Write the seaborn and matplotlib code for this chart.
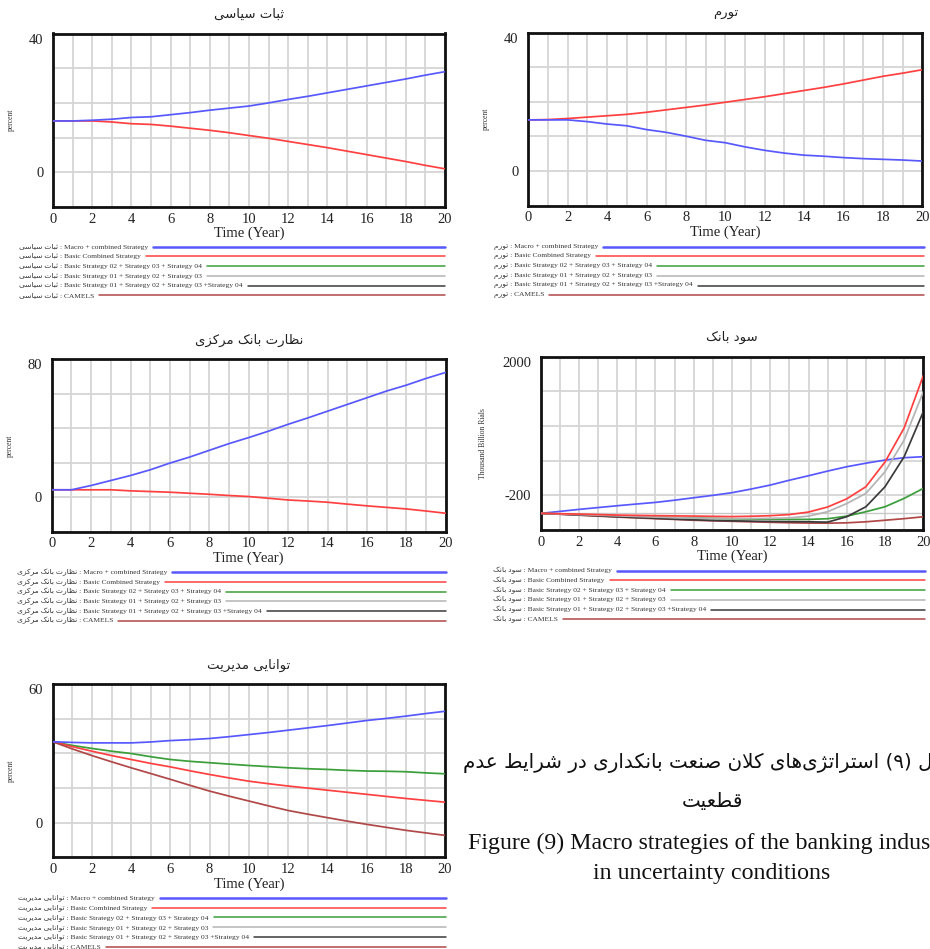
import matplotlib
matplotlib.use("Agg")
import matplotlib.pyplot as plt
from matplotlib.lines import Line2D
import numpy as np
import pandas as pd
import seaborn as sns

# ---------------------------------------------------------------- data
years = list(range(21))

series_names = [
    "Macro + combined Strategy",
    "Basic Combined Strategy",
    "Basic Strategy 02 + Strategy 03 + Strategy 04",
    "Basic Strategy 01 + Strategy 02 + Strategy 03",
    "Basic Strategy 01 + Strategy 02 + Strategy 03 +Strategy 04",
    "CAMELS",
]
series_colors = ["#5858ff", "#ff4040", "#3a9e3a", "#b4b4b4", "#3a3a3a", "#b04848"]

# political stability (percent)
stab_macro = [14.8, 14.8, 15.0, 15.3, 15.8, 16.0, 16.6, 17.2, 17.9, 18.5, 19.1,
              20.0, 21.0, 21.9, 22.9, 23.9, 24.9, 25.9, 26.9, 28.0, 29.0]
stab_basic = [14.8, 14.8, 14.8, 14.5, 14.0, 13.8, 13.3, 12.7, 12.1, 11.4, 10.6,
              9.8, 8.9, 8.0, 7.1, 6.1, 5.1, 4.1, 3.1, 2.0, 1.0]

# inflation (percent)
infl_macro = [14.8, 14.8, 14.8, 14.3, 13.6, 13.1, 12.0, 11.2, 10.1, 8.9, 8.2,
              7.0, 6.0, 5.2, 4.6, 4.3, 3.9, 3.6, 3.4, 3.2, 2.9]
infl_basic = [14.8, 14.9, 15.2, 15.6, 16.0, 16.4, 17.0, 17.7, 18.4, 19.1, 19.9,
              20.7, 21.5, 22.4, 23.3, 24.2, 25.2, 26.3, 27.4, 28.3, 29.3]

# central bank supervision (percent)
sup_macro = [4.3, 4.3, 6.8, 9.7, 12.6, 15.9, 19.8, 23.3, 27.2, 31.1, 34.6,
             38.3, 42.3, 46.0, 49.9, 53.8, 57.7, 61.6, 65.0, 68.9, 72.4]
sup_basic = [4.3, 4.3, 4.3, 4.3, 3.7, 3.3, 2.9, 2.3, 1.7, 1.0, 0.4,
             -0.6, -1.6, -2.2, -2.9, -4.0, -5.0, -5.9, -6.8, -8.0, -9.3]

# bank profit (thousand billion rials)
prof_macro = [-486, -455, -423, -394, -365, -338, -312, -277, -238, -200, -158,
              -100, -37, 40, 111, 185, 254, 310, 360, 397, 413]
prof_basic = [-486, -492, -498, -505, -513, -518, -522, -526, -529, -533, -537,
              -532, -523, -505, -465, -385, -255, -63, 330, 870, 1700]
prof_s234 = [-486, -495, -505, -515, -525, -535, -545, -553, -560, -566, -572,
             -576, -580, -582, -582, -571, -530, -460, -381, -248, -90]
prof_s123 = [-486, -495, -505, -515, -525, -535, -545, -555, -562, -566, -568,
             -568, -565, -558, -530, -460, -330, -169, 175, 678, 1445]
prof_s1234 = [-486, -498, -512, -525, -540, -552, -565, -578, -588, -598, -605,
              -610, -615, -618, -620, -625, -539, -381, -63, 413, 1127]
prof_camels = [-486, -500, -515, -530, -545, -558, -570, -582, -595, -605, -612,
               -620, -628, -635, -640, -642, -636, -620, -595, -570, -540]

# management ability (percent)
mgmt_macro = [35.1, 34.8, 34.6, 34.6, 34.6, 35.0, 35.6, 36.0, 36.5, 37.3, 38.2,
              39.1, 40.1, 41.1, 42.1, 43.2, 44.3, 45.2, 46.2, 47.3, 48.3]
mgmt_s234 = [35.1, 33.5, 32.2, 31.0, 30.0, 28.6, 27.4, 26.6, 26.0, 25.4, 24.8,
             24.3, 23.8, 23.4, 23.1, 22.7, 22.4, 22.3, 22.1, 21.6, 21.2]
mgmt_basic = [35.1, 33.0, 31.0, 29.1, 27.4, 25.7, 24.2, 22.5, 20.9, 19.4, 18.0,
              16.9, 15.9, 15.0, 14.1, 13.2, 12.3, 11.4, 10.5, 9.7, 8.9]
mgmt_camels = [35.1, 32.0, 29.1, 26.4, 23.8, 21.3, 18.8, 16.2, 13.7, 11.5, 9.4,
               7.3, 5.3, 3.7, 2.2, 0.7, -0.7, -2.0, -3.3, -4.4, -5.5]

caption_fa_1 = "شکل (۹) استراتژی\u200cهای کلان صنعت بانکداری در شرایط عدم"
caption_fa_2 = "قطعیت"
caption_en_1 = "Figure (9) Macro strategies of the banking industry"
caption_en_2 = "in uncertainty conditions"

# ---------------------------------------------------------------- Persian shaping
FORMS = {
    "ا": ("\uFE8D", "\uFE8E", None, None),
    "ب": ("\uFE8F", "\uFE90", "\uFE91", "\uFE92"),
    "پ": ("\uFB56", "\uFB57", "\uFB58", "\uFB59"),
    "ت": ("\uFE95", "\uFE96", "\uFE97", "\uFE98"),
    "ث": ("\uFE99", "\uFE9A", "\uFE9B", "\uFE9C"),
    "د": ("\uFEA9", "\uFEAA", None, None),
    "ر": ("\uFEAD", "\uFEAE", None, None),
    "ز": ("\uFEAF", "\uFEB0", None, None),
    "ژ": ("\uFB8A", "\uFB8B", None, None),
    "س": ("\uFEB1", "\uFEB2", "\uFEB3", "\uFEB4"),
    "ش": ("\uFEB5", "\uFEB6", "\uFEB7", "\uFEB8"),
    "ص": ("\uFEB9", "\uFEBA", "\uFEBB", "\uFEBC"),
    "ط": ("\uFEC1", "\uFEC2", "\uFEC3", "\uFEC4"),
    "ظ": ("\uFEC5", "\uFEC6", "\uFEC7", "\uFEC8"),
    "ع": ("\uFEC9", "\uFECA", "\uFECB", "\uFECC"),
    "ق": ("\uFED5", "\uFED6", "\uFED7", "\uFED8"),
    "ک": ("\uFB8E", "\uFB8F", "\uFB90", "\uFB91"),
    "ل": ("\uFEDD", "\uFEDE", "\uFEDF", "\uFEE0"),
    "م": ("\uFEE1", "\uFEE2", "\uFEE3", "\uFEE4"),
    "ن": ("\uFEE5", "\uFEE6", "\uFEE7", "\uFEE8"),
    "ه": ("\uFEE9", "\uFEEA", "\uFEEB", "\uFEEC"),
    "و": ("\uFEED", "\uFEEE", None, None),
    "ی": ("\uFBFC", "\uFBFD", "\uFBFE", "\uFBFF"),
}


def _joins_next(c):
    return c in FORMS and FORMS[c][2] is not None


def fa(text):
    """Contextual shaping and right-to-left ordering for Persian text."""
    out = []
    n = len(text)
    i = 0
    while i < n:
        c = text[i]
        if c == "\u200c":
            i += 1
            continue
        if c not in FORMS:
            out.append(c)
            i += 1
            continue
        prev = text[i - 1] if i > 0 else ""
        link_prev = _joins_next(prev)
        if c == "ل" and i + 1 < n and text[i + 1] == "ا":
            out.append("\uFEFC" if link_prev else "\uFEFB")
            i += 2
            continue
        nxt = text[i + 1] if i + 1 < n else ""
        link_next = _joins_next(c) and nxt in FORMS
        iso, fin, ini, med = FORMS[c]
        if link_prev and link_next:
            out.append(med)
        elif link_prev:
            out.append(fin)
        elif link_next:
            out.append(ini)
        else:
            out.append(iso)
        i += 1
    visual = "".join(reversed(out))
    return visual.translate(str.maketrans("()", ")("))


# ---------------------------------------------------------------- figure
sns.set_style("white")
plt.rcParams["font.family"] = ["Liberation Serif", "DejaVu Sans"]

W, H = 930, 949
fig = plt.figure(figsize=(W / 100, H / 100), dpi=100)


def frac_rect(left, top, right, bottom):
    return [left / W, 1 - bottom / H, (right - left) / W, (bottom - top) / H]


panels = [
    dict(title="ثبات سیاسی", box=(53, 33.5, 445, 207), ylim=(-10, 40), step=10,
         labels=(0, 40), ylabel="percent", ylab_x=-0.097,
         series={0: stab_macro, 1: stab_basic}, order=[1, 0],
         leg_x=19, leg_y0=246.7, leg_right=445),
    dict(title="تورم", box=(528.3, 32.7, 922.3, 205.7), ylim=(-10, 40), step=10,
         labels=(0, 40), ylabel="percent", ylab_x=-0.097,
         series={0: infl_macro, 1: infl_basic}, order=[1, 0],
         leg_x=494, leg_y0=246.7, leg_right=924),
    dict(title="نظارت بانک مرکزی", box=(51.7, 359.3, 445.7, 531.7), ylim=(-20, 80), step=20,
         labels=(0, 80), ylabel="percent", ylab_x=-0.097,
         series={0: sup_macro, 1: sup_basic}, order=[1, 0],
         leg_x=17, leg_y0=572.3, leg_right=446),
    dict(title="سود بانک", box=(540.7, 356.7, 923.3, 530), ylim=(-750, 2000), step=550,
         labels=(-200, 2000), ylabel="Thousand Billion Rials", ylab_x=-0.14,
         series={0: prof_macro, 1: prof_basic, 2: prof_s234, 3: prof_s123,
                 4: prof_s1234, 5: prof_camels}, order=[0, 2, 5, 4, 3, 1],
         leg_x=493, leg_y0=570.7, leg_right=925, flat_ref=True),
    dict(title="توانایی مدیریت", box=(52.7, 684.3, 445, 857.3), ylim=(-15, 60), step=15,
         labels=(0, 60), ylabel="percent", ylab_x=-0.097,
         series={0: mgmt_macro, 1: mgmt_basic, 2: mgmt_s234, 5: mgmt_camels},
         order=[2, 1, 5, 0],
         leg_x=18, leg_y0=898, leg_right=446),
]

renderer = fig.canvas.get_renderer()

for p in panels:
    ax = fig.add_axes(frac_rect(*p["box"]))
    rows = []
    for k in p["order"]:
        for t, v in zip(years, p["series"][k]):
            rows.append((t, v, series_names[k]))
    df = pd.DataFrame(rows, columns=["year", "value", "series"])
    hue_order = [series_names[k] for k in p["order"]]
    palette = {series_names[k]: series_colors[k] for k in p["order"]}

    lo, hi = p["ylim"]
    if p.get("flat_ref"):
        ax.axhline(p["series"][0][0], color="#c8c8c8", lw=1.0, zorder=1.5)

    sns.lineplot(data=df, x="year", y="value", hue="series", hue_order=hue_order,
                 palette=palette, legend=False, ax=ax, linewidth=1.25,
                 estimator=None, zorder=3)

    ax.set_xlim(0, 20)
    ax.set_ylim(lo, hi)
    ax.set_xticks(years)
    ax.set_xticklabels([str(t) if t % 2 == 0 else "" for t in years])
    yt = list(np.arange(lo, hi + p["step"] / 2, p["step"]))
    ax.set_yticks(yt)
    ax.set_yticklabels([str(int(round(v))) if int(round(v)) in p["labels"] else "" for v in yt])
    ax.grid(True, color="#d6d6d6", linewidth=1.3, zorder=0)
    ax.set_axisbelow(True)
    ax.tick_params(axis="both", length=0, labelsize=10.5, colors="#222222")
    ax.tick_params(axis="x", pad=4)
    ax.tick_params(axis="y", pad=7)
    for lab, v in zip(ax.get_yticklabels(), yt):
        if int(round(v)) == hi:
            lab.set_verticalalignment("top")
    for s in ax.spines.values():
        s.set_color("#111111")
        s.set_linewidth(2.0)
    ax.set_xlabel("Time (Year)", fontsize=10.5, labelpad=1, color="#222222")
    ax.set_ylabel(p["ylabel"], fontsize=5.5, color="#333333")
    ax.yaxis.set_label_coords(p["ylab_x"], 0.5)

    # title
    bl, bt, br, bb = p["box"]
    fig.text(((bl + br) / 2) / W, 1 - (bt - 19) / H, fa(p["title"]),
             family="DejaVu Sans", fontsize=9.5, ha="center", va="center",
             color="#222222")

    # legend rows
    prefix = fa(p["title"])
    for r, name in enumerate(series_names):
        y_px = p["leg_y0"] + r * 9.7
        txt = fig.text(p["leg_x"] / W, 1 - y_px / H, prefix + " : " + name,
                       fontsize=5.4, ha="left", va="center", color="#333333",
                       family=["Liberation Serif", "DejaVu Sans"])
        ext = txt.get_window_extent(renderer)
        x0 = (ext.x1 + 5) / W
        lw = 1.8 if r == 0 else 1.1
        fig.add_artist(Line2D([x0, p["leg_right"] / W], [1 - y_px / H] * 2,
                              color=series_colors[r], lw=lw))

# caption (runs past the right edge of the page, as in the layout it comes from)
fig.text(712 / W, 1 - 763 / H, fa(caption_fa_1), family="DejaVu Sans",
         fontsize=14.3, ha="center", va="center", color="#111111")
fig.text(712 / W, 1 - 801 / H, fa(caption_fa_2), family="DejaVu Sans",
         fontsize=14.3, ha="center", va="center", color="#111111")
fig.text(712 / W, 1 - 843 / H, caption_en_1, family="Liberation Serif",
         fontsize=17.2, ha="center", va="center", color="#111111")
fig.text(712 / W, 1 - 873 / H, caption_en_2, family="Liberation Serif",
         fontsize=17.2, ha="center", va="center", color="#111111")

fig.savefig("out.png", dpi=100)
